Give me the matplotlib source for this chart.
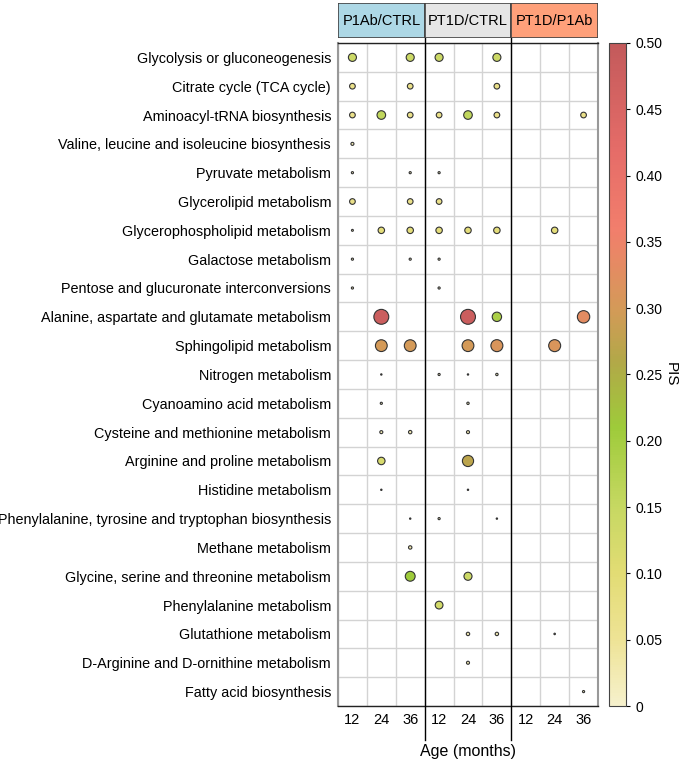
import numpy as np
import matplotlib
matplotlib.use("Agg")
import matplotlib.pyplot as plt
from matplotlib.colors import LinearSegmentedColormap
from matplotlib.patches import Rectangle

plt.rcParams['font.family'] = ['Liberation Sans', 'DejaVu Sans']

pathways = [
    "Glycolysis or gluconeogenesis",
    "Citrate cycle (TCA cycle)",
    "Aminoacyl-tRNA biosynthesis",
    "Valine, leucine and isoleucine biosynthesis",
    "Pyruvate metabolism",
    "Glycerolipid metabolism",
    "Glycerophospholipid metabolism",
    "Galactose metabolism",
    "Pentose and glucuronate interconversions",
    "Alanine, aspartate and glutamate metabolism",
    "Sphingolipid metabolism",
    "Nitrogen metabolism",
    "Cyanoamino acid metabolism",
    "Cysteine and methionine metabolism",
    "Arginine and proline metabolism",
    "Histidine metabolism",
    "Phenylalanine, tyrosine and tryptophan biosynthesis",
    "Methane metabolism",
    "Glycine, serine and threonine metabolism",
    "Phenylalanine metabolism",
    "Glutathione metabolism",
    "D-Arginine and D-ornithine metabolism",
    "Fatty acid biosynthesis",
]
comparisons = ["P1Ab/CTRL", "PT1D/CTRL", "PT1D/P1Ab"]
header_colors = ["#ADD8E6", "#E6E6E6", "#FFA07A"]
ages = [12, 24, 36]

# PIS per pathway; columns: P1Ab/CTRL 12,24,36 | PT1D/CTRL 12,24,36 | PT1D/P1Ab 12,24,36
N = None
pis = [
    [0.14, N, 0.14, 0.14, N, 0.14, N, N, N],
    [0.07, N, 0.07, N, N, 0.07, N, N, N],
    [0.07, 0.16, 0.07, 0.07, 0.16, 0.07, N, N, 0.07],
    [0.02, N, N, N, N, N, N, N, N],
    [0.01, N, 0.01, 0.01, N, N, N, N, N],
    [0.07, N, 0.07, 0.07, N, N, N, N, N],
    [0.008, 0.09, 0.09, 0.09, 0.09, 0.09, N, 0.09, N],
    [0.01, N, 0.01, 0.01, N, N, N, N, N],
    [0.01, N, N, 0.01, N, N, N, N, N],
    [N, 0.48, N, N, 0.48, 0.19, N, N, 0.33],
    [N, 0.30, 0.30, N, 0.30, 0.31, N, 0.31, N],
    [N, 0.004, N, 0.01, 0.004, 0.012, N, N, N],
    [N, 0.01, N, N, 0.012, N, N, N, N],
    [N, 0.02, 0.025, N, 0.02, N, N, N, N],
    [N, 0.12, N, N, 0.27, N, N, N, N],
    [N, 0.004, N, N, 0.004, N, N, N, N],
    [N, N, 0.004, 0.01, N, 0.004, N, N, N],
    [N, N, 0.025, N, N, N, N, N, N],
    [N, N, 0.21, N, 0.14, N, N, N, N],
    [N, N, N, 0.13, N, N, N, N, N],
    [N, N, N, N, 0.025, 0.025, N, 0.005, N],
    [N, N, N, N, 0.02, N, N, N, N],
    [N, N, N, N, N, N, N, N, 0.01],
]

cmap = LinearSegmentedColormap.from_list("pis", [
    (0.0, "#F6F1CC"), (0.1, "#EEE395"), (0.2, "#E2DC74"), (0.3, "#C6D862"),
    (0.42, "#9ECB3A"), (0.52, "#B2A848"), (0.6, "#D49A58"), (0.72, "#F27E6C"),
    (0.84, "#E56C68"), (1.0, "#C35A5B")])

xs, ys, vs = [], [], []
for i, row in enumerate(pis):
    for j, v in enumerate(row):
        if v is not None:
            xs.append(j + 1)
            ys.append(i + 1)
            vs.append(v)
xs, ys, vs = np.array(xs), np.array(ys), np.array(vs)

fig = plt.figure(figsize=(6.85, 7.63), dpi=100)
ax = fig.add_axes([0.4934, 0.0747, 0.3796, 0.869])
sc = ax.scatter(xs, ys, s=vs * 240, c=vs, cmap=cmap, vmin=0, vmax=0.5,
                edgecolors="#333333", linewidths=0.8, zorder=3)
ax.set_xlim(0.5, 9.5)
ax.set_ylim(len(pathways) + 0.5, 0.5)
ax.set_xticks(range(1, 10))
ax.set_xticklabels([str(a) for a in ages] * 3, fontsize=10.5)
ax.set_yticks(range(1, len(pathways) + 1))
ax.set_yticklabels(pathways, fontsize=10.4)
ax.tick_params(length=0, pad=5)
ax.set_xticks(np.arange(0.5, 9.6, 1), minor=True)
ax.set_yticks(np.arange(0.5, len(pathways) + 0.6, 1), minor=True)
ax.tick_params(which="minor", length=0)
ax.grid(which="minor", color="#D3D3D3", linewidth=1)
ax.grid(which="major", visible=False)
ax.set_axisbelow(True)
for side in ["top", "bottom"]:
    ax.spines[side].set_color("#222222")
    ax.spines[side].set_linewidth(1)
for side in ["left", "right"]:
    ax.spines[side].set_color("#999999")
    ax.spines[side].set_linewidth(1.5)
for xv in [3.5, 6.5]:
    ax.axvline(xv, ymin=-0.052, ymax=1.008, color="black", linewidth=1, clip_on=False, zorder=4)
ax.set_xlabel("Age (months)", fontsize=11.5, labelpad=12)

# comparison headers
hax = fig.add_axes([0.4934, 0.950, 0.3796, 0.046])
hax.set_xlim(0.5, 9.5)
hax.set_ylim(0, 1)
hax.axis("off")
for k, (name, col) in enumerate(zip(comparisons, header_colors)):
    hax.add_patch(Rectangle((0.5 + 3 * k, 0), 3, 1, facecolor=col, edgecolor="#444444", linewidth=1.2))
    hax.text(2 + 3 * k, 0.5, name, ha="center", va="center", fontsize=10.5)

cax = fig.add_axes([0.889, 0.0747, 0.025, 0.869])
cb = fig.colorbar(sc, cax=cax)
cb.set_ticks(np.arange(0, 0.51, 0.05))
cb.set_ticklabels(["0"] + ["%.2f" % t for t in np.arange(0.05, 0.51, 0.05)])
cb.ax.tick_params(labelsize=10, length=3)
cb.outline.set_edgecolor("#444444")
cb.set_label("PIS", rotation=270, fontsize=11, labelpad=11)

fig.savefig("out.png", dpi=100)
